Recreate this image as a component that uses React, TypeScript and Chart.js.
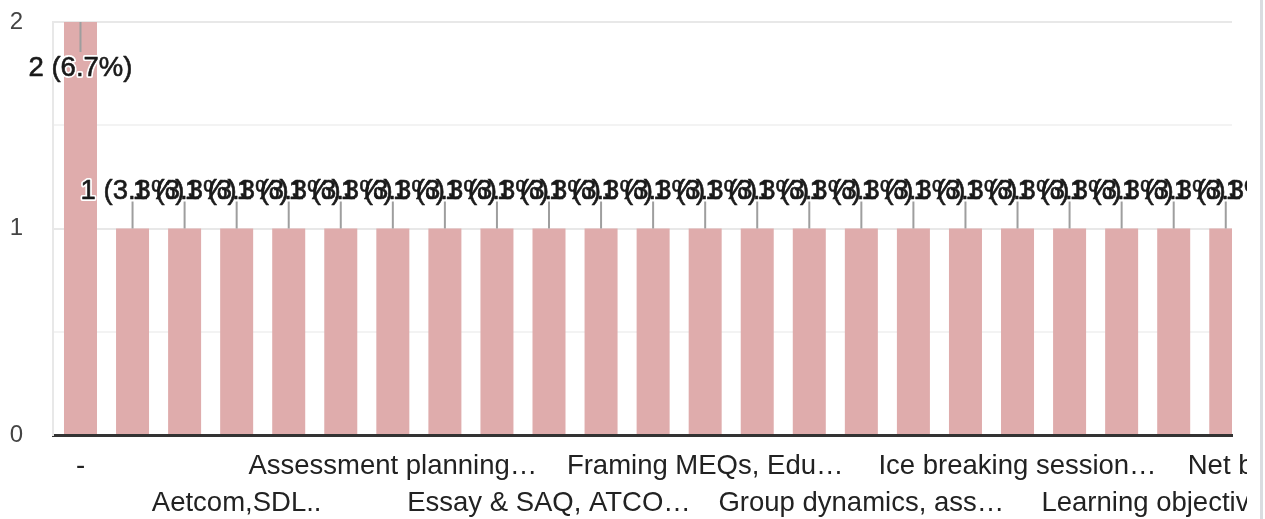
import { useEffect, useRef } from "react";
import { Chart, registerables } from "chart.js";

Chart.register(...registerables);

// Category labels as shown (truncated in the reference); "?" = category whose label is not shown
const categories: string[] = [
  "-", "?", "?",
  "Aetcom,SDL..", "?", "?",
  "Assessment planning…", "?", "?",
  "Essay & SAQ, ATCO…", "?", "?",
  "Framing MEQs, Edu…", "?", "?",
  "Group dynamics, ass…", "?", "?",
  "Ice breaking session…", "?", "?",
  "Learning objectives…", "?", "?",
  "Net based assessme…", "?", "?",
  "?", "?",
];

// Response counts per category
const values: number[] = [
  2, 1, 1, 1, 1, 1, 1, 1, 1, 1,
  1, 1, 1, 1, 1, 1, 1, 1, 1, 1,
  1, 1, 1, 1, 1, 1, 1, 1, 1,
];

const yTicks: number[] = [0, 1, 2];

const total = values.reduce((a, b) => a + b, 0);
const FONT = "'Liberation Sans', Arial, sans-serif";

const dataLabelPlugin = {
  id: "dataLabels",
  afterDatasetsDraw(chart: any) {
    const { ctx } = chart;
    const meta = chart.getDatasetMeta(0);
    const yMax = chart.scales.y.max;
    const items = meta.data.map((el: any, i: number) => {
      const v = values[i];
      const text = `${v} (${((v / total) * 100).toFixed(1)}%)`;
      const below = v >= yMax;
      const top = el.y;
      return {
        x: el.x,
        top,
        text,
        ty: below ? top + 54 : top - 30,
        ly: below ? top + 30 : top - 27,
      };
    });
    ctx.save();
    ctx.strokeStyle = "#9e9e9e";
    ctx.lineWidth = 2;
    items.forEach((it: any) => {
      ctx.beginPath();
      ctx.moveTo(it.x, it.top);
      ctx.lineTo(it.x, it.ly);
      ctx.stroke();
    });
    ctx.font = `27.5px ${FONT}`;
    ctx.textAlign = "center";
    ctx.textBaseline = "alphabetic";
    ctx.strokeStyle = "#ffffff";
    ctx.lineWidth = 4;
    ctx.lineJoin = "round";
    items.forEach((it: any) => ctx.strokeText(it.text, it.x, it.ty));
    ctx.fillStyle = "#1a1a1a";
    ctx.strokeStyle = "#1a1a1a";
    ctx.lineWidth = 0.6;
    items.forEach((it: any) => {
      ctx.fillText(it.text, it.x, it.ty);
      ctx.strokeText(it.text, it.x, it.ty);
    });
    ctx.restore();
  },
};

const xLabelPlugin = {
  id: "xLabels",
  afterDraw(chart: any) {
    const { ctx, chartArea } = chart;
    const xs = chart.scales.x;
    ctx.save();
    ctx.font = `27.5px ${FONT}`;
    ctx.textAlign = "center";
    ctx.textBaseline = "alphabetic";
    ctx.fillStyle = "#222222";
    categories.forEach((label, i) => {
      if (i % 3 !== 0) return;
      const row = (i / 3) % 2;
      const x = xs.getPixelForValue(i);
      const y = chartArea.bottom + (row === 0 ? 39 : 76);
      ctx.fillText(label, x, y);
    });
    ctx.restore();
  },
};

export default function App() {
  const ref = useRef<HTMLCanvasElement | null>(null);

  useEffect(() => {
    if (!ref.current) return;
    const chart = new Chart(ref.current, {
      type: "bar",
      data: {
        datasets: [
          {
            data: values.map((v, i) => ({ x: i, y: v })),
            backgroundColor: "#dfacac",
            borderWidth: 0,
            barPercentage: 0.634,
            categoryPercentage: 1,
          },
        ],
      },
      options: {
        animation: false,
        responsive: true,
        maintainAspectRatio: false,
        layout: { padding: { top: 14, right: 15, left: 0, bottom: 0 } },
        plugins: {
          legend: { display: false },
          tooltip: { enabled: false },
        },
        scales: {
          x: {
            type: "linear",
            offset: false,
            min: -0.528,
            max: 22.12,
            afterBuildTicks: (scale: any) => {
              scale.ticks = categories
                .map((_, i) => ({ value: i }))
                .filter((t) => t.value >= scale.min && t.value <= scale.max);
            },
            afterFit: (scale: any) => {
              scale.height = 84;
              scale.paddingLeft = 0;
              scale.paddingRight = 0;
            },
            grid: { display: false, offset: false },
            ticks: { display: false },
            border: { display: true, color: "#333333", width: 3 },
          },
          y: {
            min: 0,
            max: 2,
            afterBuildTicks: (scale: any) => {
              const t: { value: number }[] = [];
              for (let v = yTicks[0]; v <= yTicks[yTicks.length - 1]; v += 0.5) t.push({ value: v });
              scale.ticks = t;
            },
            afterFit: (scale: any) => {
              scale.width = 45;
              scale.paddingTop = 0;
              scale.paddingBottom = 0;
            },
            grid: {
              drawTicks: false,
              lineWidth: 2,
              color: (c: any) =>
                c.tick && Number.isInteger(c.tick.value) ? "#e8e8e8" : "#f3f3f3",
            },
            border: { display: true, color: "#e8e8e8", width: 2 },
            ticks: {
              padding: 30,
              color: "#444444",
              font: { family: FONT, size: 24 },
              callback: (v: any) => (yTicks.includes(Number(v)) ? String(v) : ""),
            },
          },
        },
      },
      plugins: [dataLabelPlugin, xLabelPlugin],
    });
    return () => chart.destroy();
  }, []);

  return (
    <>
      <div style={{ position: "relative", width: 1239, height: 511 }}>
        <canvas ref={ref} />
      </div>
      <div
        style={{
          position: "fixed",
          left: 1260,
          top: 0,
          bottom: 0,
          width: 3,
          background: "#dadce0",
        }}
      />
    </>
  );
}
